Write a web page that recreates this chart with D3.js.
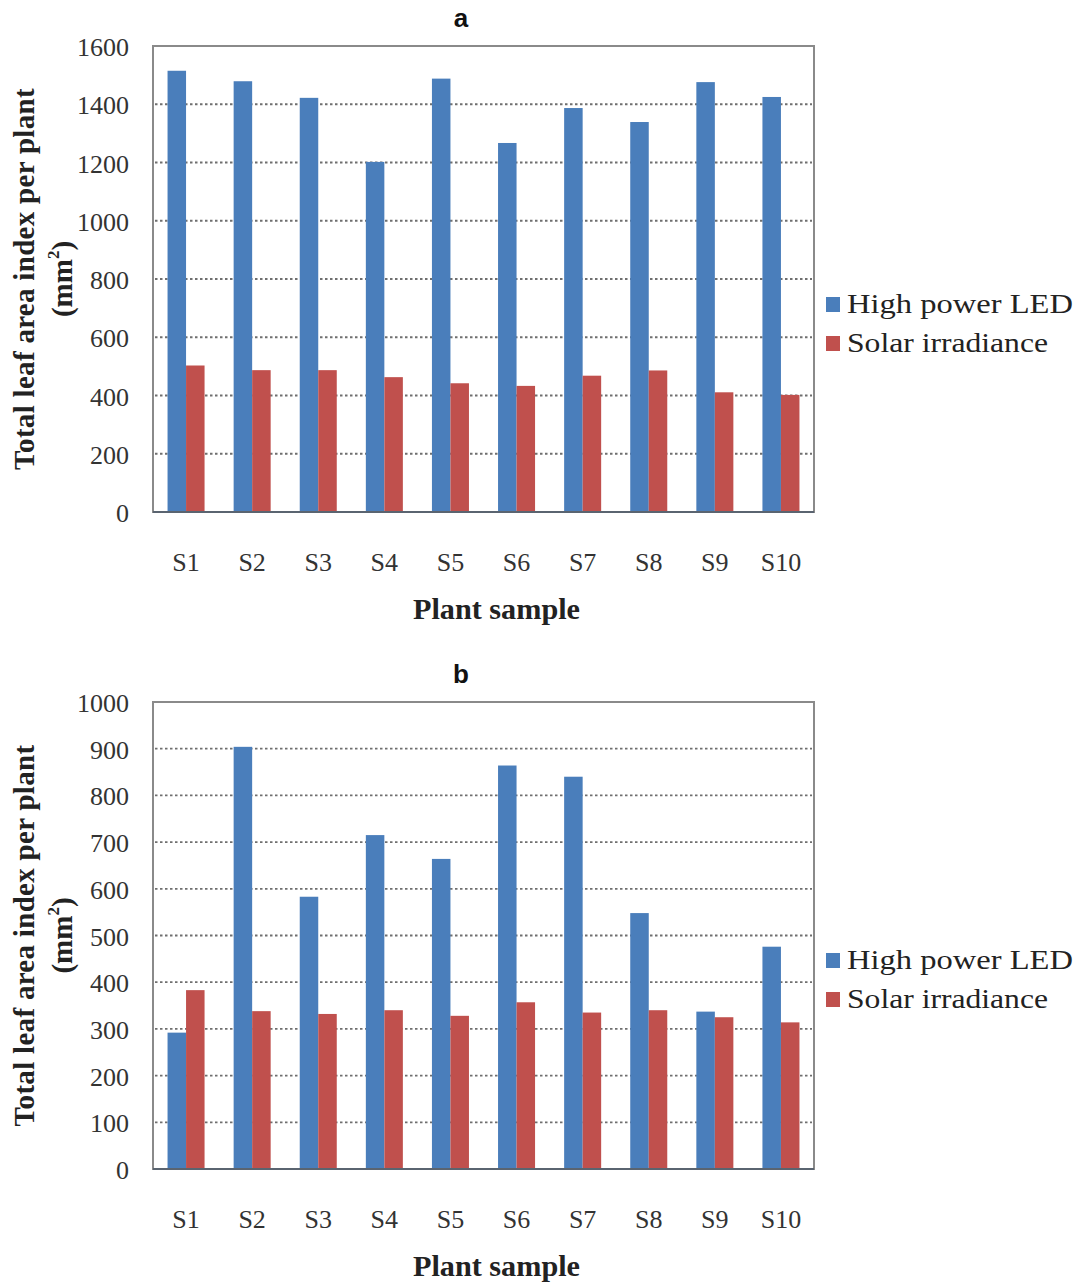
<!DOCTYPE html>
<html>
<head>
<meta charset="utf-8">
<script src="https://cdn.jsdelivr.net/npm/d3@7"></script>
<style>
  body { margin: 0; background: #fff; }
  .tick-label { font-family: "Liberation Serif", "Times New Roman", serif; font-size: 26px; fill: #333; }
  .axis-title { font-family: "Liberation Serif", "Times New Roman", serif; font-size: 29px; font-weight: bold; fill: #222; }
  .legend-label { font-family: "Liberation Serif", "Times New Roman", serif; font-size: 27px; fill: #222; }
  .panel-label { font-family: "Liberation Sans", Arial, sans-serif; font-size: 26px; font-weight: bold; fill: #111; }
</style>
</head>
<body>
<svg id="chart" width="1078" height="1285"></svg>
<script>
// Data
var samples = ["S1", "S2", "S3", "S4", "S5", "S6", "S7", "S8", "S9", "S10"];
var seriesNames = ["High power LED", "Solar irradiance"];

// panel a
var ledA = [1515, 1479, 1422, 1202, 1488, 1267, 1387, 1339, 1476, 1425];
var solarA = [503, 487, 487, 463, 442, 433, 468, 486, 411, 402];
var ticksA = [0, 200, 400, 600, 800, 1000, 1200, 1400, 1600];

// panel b
var ledB = [292, 904, 583, 715, 664, 864, 840, 548, 337, 476];
var solarB = [383, 338, 332, 340, 328, 357, 335, 340, 325, 314];
var ticksB = [0, 100, 200, 300, 400, 500, 600, 700, 800, 900, 1000];

var colors = ["#4a7ebb", "#c0504d"];
// the source image is a little stretched sideways, so the legend text is wider
var legendWidths = [226, 201];

var svg = d3.select("#chart");

/* Draw one grouped bar panel
   top / bottom: pixel rows of the plot box
*/
function drawPanel(label, led, solar, ticks, top, bottom) {
  var left = 153,
    right = 814;

  var g = svg.append("g");

  var x = d3.scaleBand().domain(samples).range([left, right]).paddingInner(0.44).paddingOuter(0.22);
  var x1 = d3.scaleBand().domain(seriesNames).range([0, x.bandwidth()]);
  var y = d3.scaleLinear().domain([0, d3.max(ticks)]).range([bottom, top]);

  // dotted gridlines (skip 0 and the top border)
  g.selectAll(".grid")
    .data(ticks.slice(1, -1))
    .enter()
    .append("line")
    .attr("x1", left + 2)
    .attr("x2", right - 2)
    .attr("y1", d => y(d))
    .attr("y2", d => y(d))
    .attr("stroke", "#6f6f6f")
    .attr("stroke-width", 1.8)
    .attr("stroke-dasharray", "2.5,2.5");

  // bars
  var rows = samples.map((s, i) => ({ s: s, vals: [led[i], solar[i]] }));
  var groups = g.selectAll(".grp")
    .data(rows)
    .enter()
    .append("g")
    .attr("transform", d => `translate(${x(d.s)},0)`);

  groups.selectAll("rect")
    .data(d => d.vals.map((v, k) => ({ name: seriesNames[k], v: v, k: k })))
    .enter()
    .append("rect")
    .attr("x", d => x1(d.name))
    .attr("width", x1.bandwidth())
    .attr("y", d => y(d.v))
    .attr("height", d => y(0) - y(d.v))
    .attr("fill", d => colors[d.k]);

  // plot box
  g.append("rect")
    .attr("x", left)
    .attr("y", top)
    .attr("width", right - left)
    .attr("height", bottom - top)
    .attr("fill", "none")
    .attr("stroke", "#8a8a8a")
    .attr("stroke-width", 2);

  g.append("line")
    .attr("x1", left)
    .attr("x2", right)
    .attr("y1", bottom)
    .attr("y2", bottom)
    .attr("stroke", "#5a6470")
    .attr("stroke-width", 2);

  // y tick labels
  g.selectAll(".ytick")
    .data(ticks)
    .enter()
    .append("text")
    .attr("class", "tick-label")
    .attr("x", left - 24)
    .attr("y", d => y(d) + 10)
    .attr("text-anchor", "end")
    .text(d => d);

  // x tick labels
  g.selectAll(".xtick")
    .data(samples)
    .enter()
    .append("text")
    .attr("class", "tick-label")
    .attr("x", d => x(d) + x.bandwidth() / 2)
    .attr("y", bottom + 59)
    .attr("text-anchor", "middle")
    .text(d => d);

  // axis titles
  g.append("text")
    .attr("class", "axis-title")
    .attr("x", 413)
    .attr("y", bottom + 107)
    .attr("font-size", "28px")
    .attr("textLength", 167)
    .attr("lengthAdjust", "spacingAndGlyphs")
    .text("Plant sample");

  var midY = (top + bottom) / 2;
  g.append("text")
    .attr("class", "axis-title")
    .attr("transform", `translate(34,${midY}) rotate(-90)`)
    .attr("text-anchor", "middle")
    .attr("letter-spacing", "0.3px")
    .text("Total leaf area index per plant");

  var unit = g.append("text")
    .attr("class", "axis-title")
    .attr("transform", `translate(72,${midY}) rotate(-90)`)
    .attr("text-anchor", "middle");
  unit.append("tspan").text("(mm");
  unit.append("tspan").attr("font-size", "17px").attr("dy", -13).text("2");
  unit.append("tspan").attr("dy", 13).text(")");

  // legend
  var leg = g.selectAll(".leg")
    .data(seriesNames)
    .enter()
    .append("g")
    .attr("transform", (d, i) => `translate(826,${top + 251 + i * 39})`);
  leg.append("rect")
    .attr("width", 14)
    .attr("height", 15)
    .attr("fill", (d, i) => colors[i]);
  leg.append("text")
    .attr("class", "legend-label")
    .attr("x", 21)
    .attr("y", 16)
    .attr("textLength", (d, i) => legendWidths[i])
    .attr("lengthAdjust", "spacingAndGlyphs")
    .text(d => d);

  // panel letter
  g.append("text")
    .attr("class", "panel-label")
    .attr("x", 461)
    .attr("y", top - 19)
    .attr("text-anchor", "middle")
    .text(label);
}

drawPanel("a", ledA, solarA, ticksA, 46, 512);
drawPanel("b", ledB, solarB, ticksB, 702, 1169);
</script>
</body>
</html>
